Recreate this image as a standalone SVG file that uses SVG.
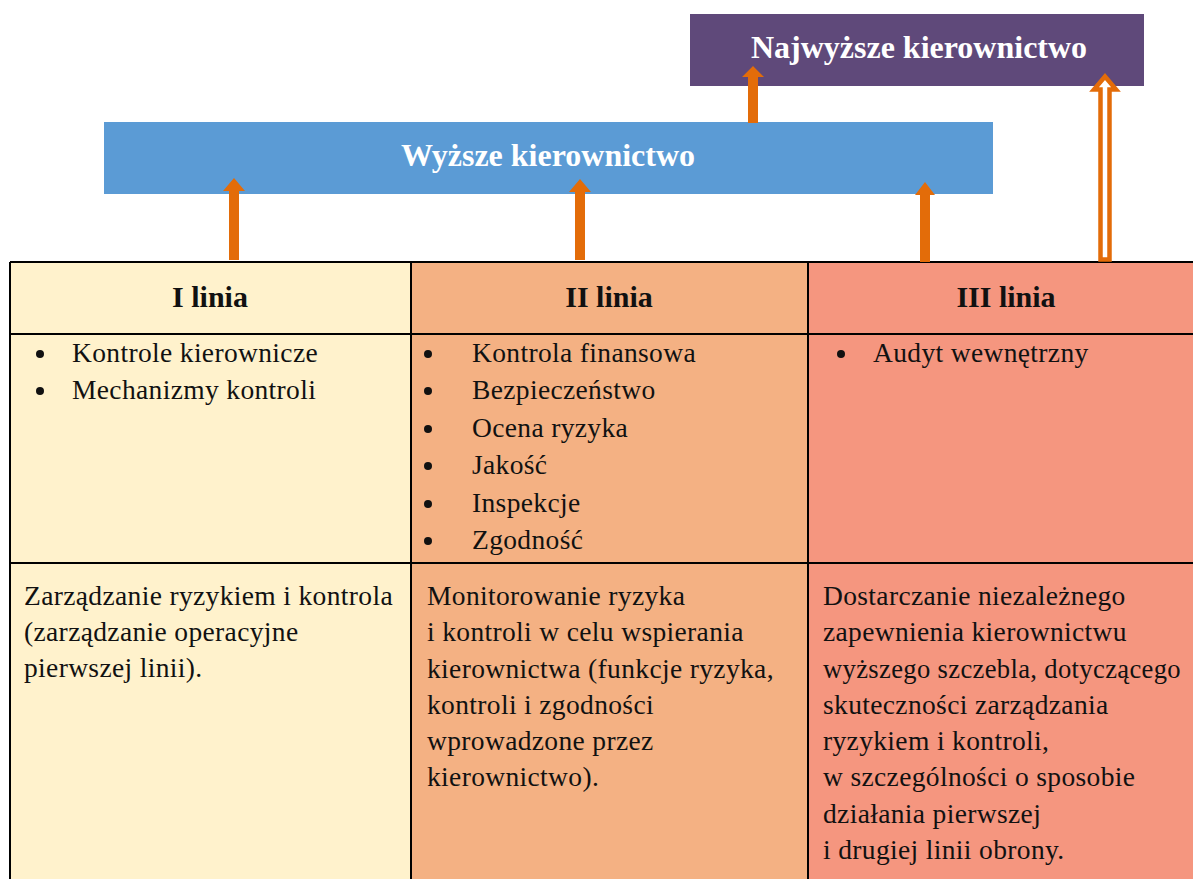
<svg xmlns="http://www.w3.org/2000/svg" width="1193" height="879" viewBox="0 0 1193 879">
<style>
.t{font-family:"Liberation Serif","Times New Roman",serif;font-size:27.5px;letter-spacing:0.35px;fill:#111}
.h{font-family:"Liberation Serif","Times New Roman",serif;font-size:30px;font-weight:bold;fill:#111;text-anchor:middle}
.ttl{font-family:"Liberation Serif","Times New Roman",serif;font-size:32px;font-weight:bold;fill:#fff;text-anchor:middle}
.grid{stroke:#000;stroke-width:2;fill:none}
.arr{fill:#E36C09}
</style>
<rect width="1193" height="879" fill="#fff"/>
<g id="najwyzsze">
<rect x="690" y="14" width="454" height="72" fill="#5F497A"/>
<text class="ttl" x="919" y="58">Najwyższe kierownictwo</text>
</g>
<g id="wyzsze">
<rect x="104" y="122" width="889" height="72" fill="#5B9BD5"/>
<text class="ttl" x="548" y="166">Wyższe kierownictwo</text>
</g>
<g id="col1">
<rect x="10" y="262" width="401" height="617" fill="#FFF2CC"/>
<text class="h" x="210" y="307">I linia</text>
<circle cx="40" cy="354" r="4" fill="#111"/>
<circle cx="40" cy="391" r="4" fill="#111"/>
<text class="t" x="72" y="362">Kontrole kierownicze</text>
<text class="t" x="72" y="399">Mechanizmy kontroli</text>
<text class="t" x="24" y="605">Zarządzanie ryzykiem i kontrola</text>
<text class="t" x="24" y="641">(zarządzanie operacyjne</text>
<text class="t" x="24" y="677">pierwszej linii).</text>
</g>
<g id="col2">
<rect x="411" y="262" width="397" height="617" fill="#F4B183"/>
<text class="h" x="609" y="307">II linia</text>
<g fill="#111">
<circle cx="428" cy="354" r="4"/>
<circle cx="428" cy="391" r="4"/>
<circle cx="428" cy="429" r="4"/>
<circle cx="428" cy="466" r="4"/>
<circle cx="428" cy="504" r="4"/>
<circle cx="428" cy="541" r="4"/>
</g>
<text class="t" x="472" y="362">Kontrola finansowa</text>
<text class="t" x="472" y="399">Bezpieczeństwo</text>
<text class="t" x="472" y="437">Ocena ryzyka</text>
<text class="t" x="472" y="474">Jakość</text>
<text class="t" x="472" y="512">Inspekcje</text>
<text class="t" x="472" y="549">Zgodność</text>
<text class="t" x="427" y="605">Monitorowanie ryzyka</text>
<text class="t" x="427" y="641">i kontroli w celu wspierania</text>
<text class="t" x="427" y="678">kierownictwa (funkcje ryzyka,</text>
<text class="t" x="427" y="714">kontroli i zgodności</text>
<text class="t" x="427" y="750">wprowadzone przez</text>
<text class="t" x="427" y="786">kierownictwo).</text>
</g>
<g id="col3">
<rect x="808" y="262" width="385" height="617" fill="#F5967F"/>
<text class="h" x="1006" y="307">III linia</text>
<circle cx="841" cy="354" r="4" fill="#111"/>
<text class="t" x="873" y="362">Audyt wewnętrzny</text>
<text class="t" x="823" y="605">Dostarczanie niezależnego</text>
<text class="t" x="823" y="641">zapewnienia kierownictwu</text>
<text class="t" x="823" y="678" textLength="358" lengthAdjust="spacingAndGlyphs">wyższego szczebla, dotyczącego</text>
<text class="t" x="823" y="714">skuteczności zarządzania</text>
<text class="t" x="823" y="750">ryzykiem i kontroli,</text>
<text class="t" x="823" y="786">w szczególności o sposobie</text>
<text class="t" x="823" y="823">działania pierwszej</text>
<text class="t" x="823" y="859">i drugiej linii obrony.</text>
</g>
<g id="grid" class="grid">
<path d="M10 262H1193M10 334H1193M10 563H1193M10 262V879M411 262V879M808 262V879"/>
</g>
<g id="connectors">
<polygon class="arr" points="229,260 229,191 223,191 234,178 245,191 239,191 239,260"/>
<polygon class="arr" points="575,260 575,192 569,192 580,179 591,192 585,192 585,260"/>
<polygon class="arr" points="920,262 920,195 915,195 925,182 935,195 930,195 930,262"/>
<polygon class="arr" points="748,123 748,77 742,77 753,66 764,77 758,77 758,123"/>
<polygon points="1100.5,259.5 1100.5,89.5 1094,89.5 1105,76.5 1116,89.5 1109.5,89.5 1109.5,259.5" fill="#fff" stroke="#E36C09" stroke-width="4.5"/>
</g>
</svg>
